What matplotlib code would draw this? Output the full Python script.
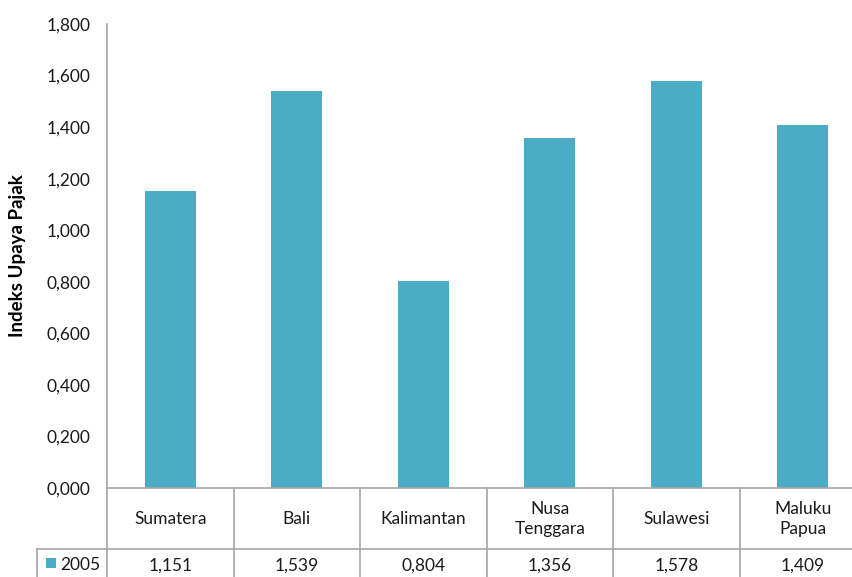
import matplotlib
matplotlib.use("Agg")
import matplotlib.pyplot as plt
from matplotlib.transforms import blended_transform_factory
from matplotlib.patches import Rectangle

plt.rcParams['font.family'] = ['Lato', 'DejaVu Sans']

regions = ["Sumatera", "Bali", "Kalimantan", "Nusa\nTenggara", "Sulawesi", "Maluku\nPapua"]
values_2005 = [1.151, 1.539, 0.804, 1.356, 1.578, 1.409]
series_name = "2005"
y_ticks = [0.0, 0.2, 0.4, 0.6, 0.8, 1.0, 1.2, 1.4, 1.6, 1.8]

bar_color = "#4BACC6"
line_color = "#A6A6A6"
text_color = "#1a1a1a"
fs = 12.5

W, H = 852, 577
fig = plt.figure(figsize=(W / 100, H / 100), dpi=100)

def fy(py):
    return 1 - py / H

left_px, right_px, top_px, bottom_px = 107, 866, 24, 488
ax = fig.add_axes([left_px / W, fy(bottom_px), (right_px - left_px) / W, (bottom_px - top_px) / H])

x = list(range(len(regions)))
ax.bar(x, values_2005, width=0.4, color=bar_color, zorder=2)
ax.set_xlim(-0.5, len(regions) - 0.5)
ax.set_ylim(0, 1.8)
ax.set_yticks(y_ticks)
ax.set_yticklabels([f"{v:.3f}".replace(".", ",") for v in y_ticks], fontsize=fs, color=text_color)
ax.tick_params(axis="y", length=0, pad=12)
ax.set_xticks([])
for s in ["top", "right", "bottom"]:
    ax.spines[s].set_visible(False)
ax.spines["left"].set_color(line_color)
ax.spines["left"].set_linewidth(1.2)

fig.text(18 / W, fy(256), "Indeks Upaya Pajak", rotation=90, ha="center", va="center",
         fontsize=13.5, fontweight="bold", color="black")

# data table below the plot area
tr = blended_transform_factory(ax.transData, fig.transFigure)
row1_top, row1_bot, row2_bot = fy(488), fy(549), fy(580)
lw = 1.2
# horizontal rules
fig.add_artist(plt.Line2D([left_px / W, 1.0], [row1_top, row1_top], color=line_color, lw=lw))
fig.add_artist(plt.Line2D([37 / W, 1.0], [row1_bot, row1_bot], color=line_color, lw=lw))
# left edges
fig.add_artist(plt.Line2D([left_px / W, left_px / W], [row1_top, row2_bot], color=line_color, lw=lw))
fig.add_artist(plt.Line2D([37 / W, 37 / W], [row1_bot, row2_bot], color=line_color, lw=lw))
# column separators, category names and values
for i in range(len(regions)):
    xb = i + 0.5
    ax.add_line(plt.Line2D([xb, xb], [row1_top, row2_bot], transform=tr, color=line_color,
                           lw=lw, clip_on=False))
    ax.text(i, fy(519), regions[i], transform=tr, ha="center", va="center", fontsize=fs,
            color=text_color, linespacing=1.25, clip_on=False)
    ax.text(i, fy(566), f"{values_2005[i]:.3f}".replace(".", ","), transform=tr,
            ha="center", va="center", fontsize=fs, color=text_color, clip_on=False)

# legend key in the table
fig.add_artist(Rectangle((46 / W, fy(568)), 10 / W, 10 / H, transform=fig.transFigure,
                         facecolor=bar_color, edgecolor="none"))
fig.text(60 / W, fy(565), series_name, ha="left", va="center", fontsize=fs, color=text_color)

fig.savefig("out.png", dpi=100)
